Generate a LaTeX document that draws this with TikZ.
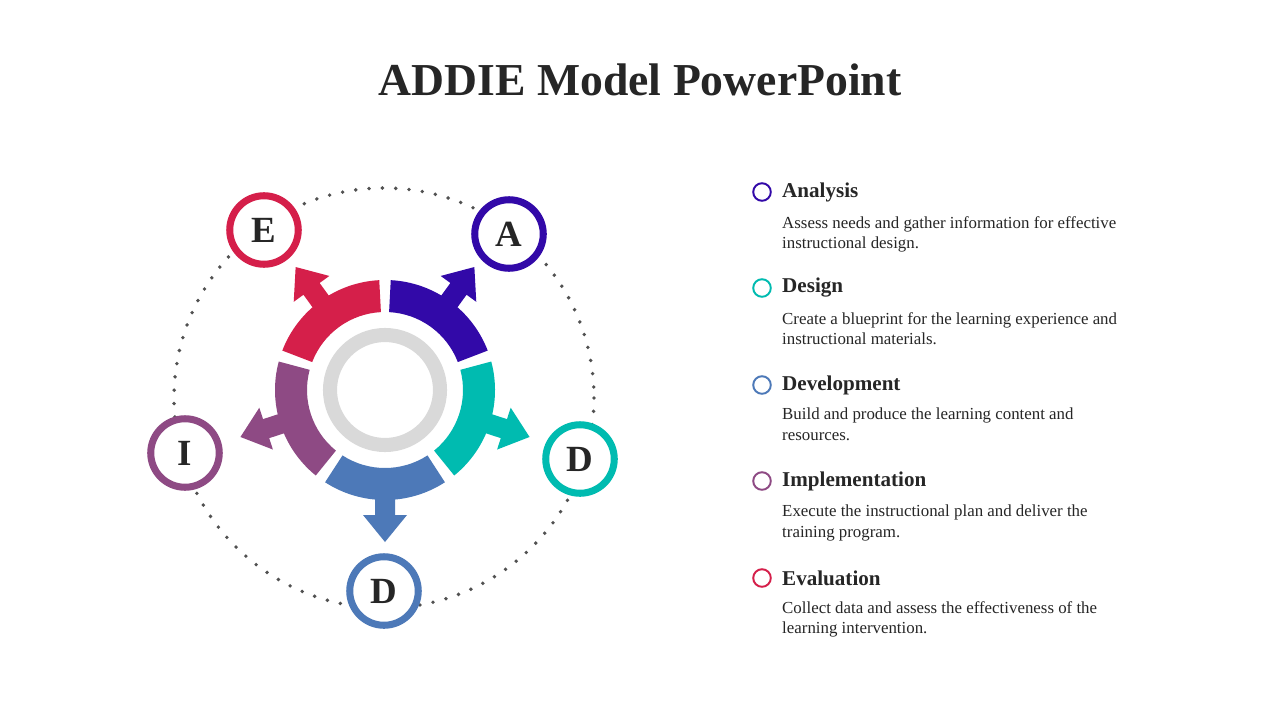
\documentclass[tikz,border=0pt]{standalone}
\usepackage{fontspec}
\setmainfont{Liberation Serif}
\usetikzlibrary{positioning}
\definecolor{AA}{RGB}{50, 9, 168}
\definecolor{DD}{RGB}{0, 187, 176}
\definecolor{VV}{RGB}{77, 121, 184}
\definecolor{II}{RGB}{142, 74, 132}
\definecolor{EE}{RGB}{213, 31, 74}
\definecolor{GG}{RGB}{217, 217, 217}
\definecolor{tx}{RGB}{38, 38, 38}
\tikzset{
    letter/.style={circle, draw=#1, fill=white, line width=4pt, minimum size=39pt, inner sep=0pt, font=\fontsize{21}{21}\selectfont\bfseries, text=tx},
    bullet/.style={circle, draw=#1, line width=1.1pt, minimum size=10pt, inner sep=0pt},
    head/.style={anchor=west, font=\fontsize{12}{13}\selectfont\bfseries, text=tx},
    desc/.style={anchor=north west, align=left, font=\fontsize{9.6}{11.6}\selectfont, text=tx},
}
\begin{document}
\begin{tikzpicture}[x=0.02cm, y=-0.02cm]
\fill[white] (0,0) rectangle (1280,720);
\node[font=\fontsize{26}{26}\selectfont\bfseries, text=tx] (title) at (640,80) {ADDIE Model PowerPoint};

% dotted orbit
\draw[tx!80, line width=2.2pt, line cap=round, dash pattern=on 0pt off 7.6pt] (384,398) circle (210);

% ring of segments
\begin{scope}[shift={(385,390)}]
  \draw[GG, line width=8pt] (0,0) circle (55);
  \foreach \ang/\col in {54/AA, -18/DD, 270/VV, 198/II, 126/EE}{
    \begin{scope}[rotate=\ang]
      \fill[\col] (-33:78) arc (-33:33:78) -- (33:110) arc (33:-33:110) -- cycle;
      \fill[\col] (100,-10) -- (125,-10) -- (125,-22) -- (152,0) -- (125,22) -- (125,10) -- (100,10) -- cycle;
    \end{scope}
  }
\end{scope}

% letters
\node[letter=EE] (e) at (264,230) {E};
\node[letter=AA] (a) at (509,234) {A};
\node[letter=DD] (d1) at (580,459) {D};
\node[letter=VV] (d2) at (384,591) {D};
\node[letter=II] (i) at (185,453) {I};

% list
\foreach \y/\col/\nm/\txt in {
  192/AA/analysis/{Analysis},
  288/DD/design/{Design},
  385/VV/development/{Development},
  481/II/implementation/{Implementation},
  578/EE/evaluation/{Evaluation}}{
  \node[bullet=\col] (b-\nm) at (762,\y) {};
  \node[head] (h-\nm) at (776,\y) {\txt};
}
\node[desc] at (776,210) {Assess needs and gather information for effective\\instructional design.};
\node[desc] at (776,306) {Create a blueprint for the learning experience and\\instructional materials.};
\node[desc] at (776,402) {Build and produce the learning content and\\resources.};
\node[desc] at (776,499) {Execute the instructional plan and deliver the\\training program.};
\node[desc] at (776,595) {Collect data and assess the effectiveness of the\\learning intervention.};
\end{tikzpicture}
\end{document}
